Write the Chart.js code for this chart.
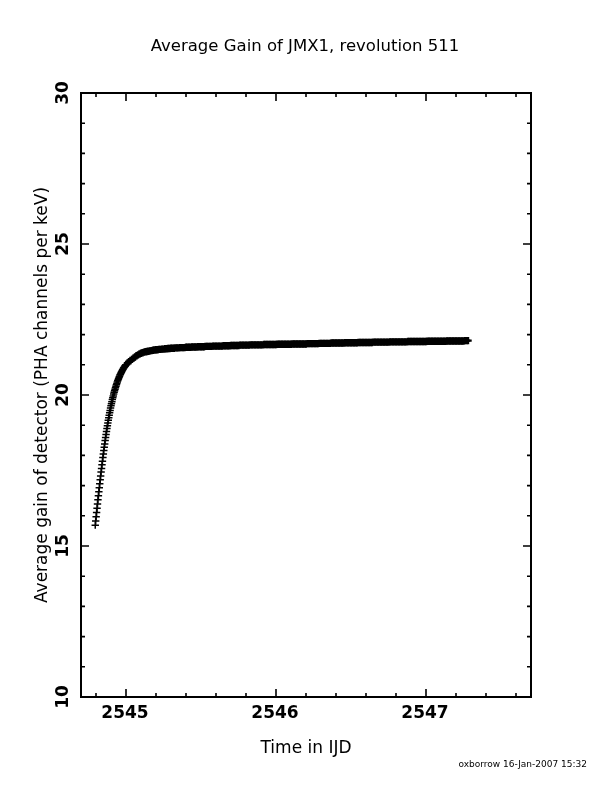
<!DOCTYPE html>
<html><head><meta charset="utf-8">
<script src="https://cdn.jsdelivr.net/npm/chart.js@4.4.0/dist/chart.umd.min.js"></script>
<style>html,body{margin:0;padding:0;background:#fff;}#wrap{width:612px;height:792px;}</style>
</head><body><div id="wrap"><canvas id="c" width="612" height="792"></canvas></div>
<script>
const titleText = "Average Gain of JMX1, revolution 511";
const xTitle = "Time in IJD";
const yTitle = "Average gain of detector (PHA channels per keV)";
const stampText = "oxborrow 16-Jan-2007 15:32";

const xMajorTicks = [2545, 2546, 2547];
const xMinorTicks = [2544.8, 2545.2, 2545.4, 2545.6, 2545.8, 2546.2, 2546.4, 2546.6, 2546.8, 2547.2, 2547.4, 2547.6];
const yMajorTicks = [10, 15, 20, 25, 30];
const yMinorTicks = [11, 12, 13, 14, 16, 17, 18, 19, 21, 22, 23, 24, 26, 27, 28, 29];

const steepTimes = [
 2544.795,2544.798,2544.801,2544.804,2544.807,2544.810,2544.813,2544.816,2544.819,2544.822,
 2544.825,2544.828,2544.831,2544.834,2544.837,2544.840,2544.843,2544.846,2544.849,2544.852,
 2544.855,2544.858,2544.861,2544.864,2544.867,2544.870,2544.873,2544.876,2544.879,2544.882,
 2544.885,2544.888,2544.891,2544.894,2544.897,2544.900,2544.903,2544.906,2544.909,2544.912,
 2544.915,2544.918,2544.921,2544.924,2544.927,2544.930,2544.933,2544.936,2544.939,2544.942,
 2544.945,2544.948,2544.951,2544.954,2544.957,2544.960,2544.963,2544.966,2544.969,2544.972,
 2544.975,2544.978,2544.981,2544.984,2544.987,2544.990,2544.993,2544.996,2544.999
];
const steepGain = [
 15.69,15.83,15.97,16.11,16.25,16.39,16.53,16.66,16.80,16.93,
 17.06,17.19,17.32,17.45,17.57,17.69,17.81,17.93,18.05,18.16,
 18.27,18.38,18.49,18.59,18.69,18.79,18.89,18.98,19.07,19.16,
 19.25,19.33,19.41,19.49,19.57,19.64,19.71,19.78,19.85,19.91,
 19.97,20.03,20.09,20.14,20.19,20.24,20.29,20.34,20.38,20.43,
 20.47,20.51,20.55,20.59,20.62,20.66,20.69,20.72,20.75,20.78,
 20.81,20.84,20.86,20.89,20.91,20.93,20.96,20.98,21.00
];

const plateauTimes = [
 2545.01,2545.02,2545.03,2545.04,2545.05,2545.06,2545.07,2545.08,2545.09,
 2545.10,2545.11,2545.12,2545.13,2545.14,2545.15,2545.16,2545.17,2545.18,2545.19,
 2545.20,2545.21,2545.22,2545.23,2545.24,2545.25,2545.26,2545.27,2545.28,2545.29,
 2545.30,2545.31,2545.32,2545.33,2545.34,2545.35,2545.36,2545.37,2545.38,2545.39,
 2545.40,2545.41,2545.42,2545.43,2545.44,2545.45,2545.46,2545.47,2545.48,2545.49,
 2545.50,2545.51,2545.52,2545.53,2545.54,2545.55,2545.56,2545.57,2545.58,2545.59,
 2545.60,2545.61,2545.62,2545.63,2545.64,2545.65,2545.66,2545.67,2545.68,2545.69,
 2545.70,2545.71,2545.72,2545.73,2545.74,2545.75,2545.76,2545.77,2545.78,2545.79,
 2545.80,2545.81,2545.82,2545.83,2545.84,2545.85,2545.86,2545.87,2545.88,2545.89,
 2545.90,2545.91,2545.92,2545.93,2545.94,2545.95,2545.96,2545.97,2545.98,2545.99,
 2546.00,2546.01,2546.02,2546.03,2546.04,2546.05,2546.06,2546.07,2546.08,2546.09,
 2546.10,2546.11,2546.12,2546.13,2546.14,2546.15,2546.16,2546.17,2546.18,2546.19,
 2546.20,2546.21,2546.22,2546.23,2546.24,2546.25,2546.26,2546.27,2546.28,2546.29,
 2546.30,2546.31,2546.32,2546.33,2546.34,2546.35,2546.36,2546.37,2546.38,2546.39,
 2546.40,2546.41,2546.42,2546.43,2546.44,2546.45,2546.46,2546.47,2546.48,2546.49,
 2546.50,2546.51,2546.52,2546.53,2546.54,2546.55,2546.56,2546.57,2546.58,2546.59,
 2546.60,2546.61,2546.62,2546.63,2546.64,2546.65,2546.66,2546.67,2546.68,2546.69,
 2546.70,2546.71,2546.72,2546.73,2546.74,2546.75,2546.76,2546.77,2546.78,2546.79,
 2546.80,2546.81,2546.82,2546.83,2546.84,2546.85,2546.86,2546.87,2546.88,2546.89,
 2546.90,2546.91,2546.92,2546.93,2546.94,2546.95,2546.96,2546.97,2546.98,2546.99,
 2547.00,2547.01,2547.02,2547.03,2547.04,2547.05,2547.06,2547.07,2547.08,2547.09,
 2547.10,2547.11,2547.12,2547.13,2547.14,2547.15,2547.16,2547.17,2547.18,2547.19,
 2547.20,2547.21,2547.22,2547.23,2547.24,2547.25,2547.26,2547.27,2547.28
];
const plateauGain = [
 21.05,21.10,21.14,21.18,21.22,21.26,21.30,21.33,21.36,
 21.38,21.40,21.42,21.43,21.44,21.45,21.46,21.47,21.48,21.49,
 21.50,21.50,21.51,21.51,21.52,21.52,21.53,21.53,21.54,21.54,
 21.55,21.55,21.55,21.56,21.56,21.56,21.57,21.57,21.57,21.57,
 21.58,21.58,21.58,21.58,21.59,21.59,21.59,21.59,21.60,21.60,
 21.60,21.60,21.60,21.61,21.61,21.61,21.61,21.61,21.62,21.62,
 21.62,21.62,21.62,21.62,21.62,21.63,21.63,21.63,21.63,21.63,
 21.64,21.64,21.64,21.64,21.64,21.64,21.65,21.65,21.65,21.65,
 21.65,21.65,21.65,21.66,21.66,21.66,21.66,21.66,21.66,21.66,
 21.66,21.66,21.67,21.67,21.67,21.67,21.67,21.67,21.67,21.67,
 21.67,21.68,21.68,21.68,21.68,21.68,21.68,21.68,21.68,21.68,
 21.68,21.69,21.69,21.69,21.69,21.69,21.69,21.69,21.69,21.69,
 21.69,21.70,21.70,21.70,21.70,21.70,21.70,21.70,21.70,21.71,
 21.71,21.71,21.71,21.71,21.71,21.71,21.71,21.72,21.72,21.72,
 21.72,21.72,21.72,21.72,21.72,21.72,21.73,21.73,21.73,21.73,
 21.73,21.73,21.73,21.73,21.73,21.74,21.74,21.74,21.74,21.74,
 21.74,21.74,21.74,21.74,21.74,21.75,21.75,21.75,21.75,21.75,
 21.75,21.75,21.75,21.75,21.75,21.75,21.76,21.76,21.76,21.76,
 21.76,21.76,21.76,21.76,21.76,21.76,21.76,21.76,21.77,21.77,
 21.77,21.77,21.77,21.77,21.77,21.77,21.77,21.77,21.77,21.77,
 21.77,21.78,21.78,21.78,21.78,21.78,21.78,21.78,21.78,21.78,
 21.78,21.78,21.78,21.78,21.79,21.79,21.79,21.79,21.79,21.79,
 21.79,21.79,21.79,21.79,21.79,21.79,21.80,21.80,21.80
];

const allTimes = steepTimes.concat(plateauTimes);
const allGain = steepGain.concat(plateauGain);
const points = allTimes.map((t, i) => ({ x: t, y: allGain[i] }));

const FONT = '"DejaVu Sans", "Liberation Sans", sans-serif';

const framePlugin = {
  id: 'frame',
  afterDatasetsDraw(chart) {
    const { ctx, chartArea: a, scales: { x, y } } = chart;
    ctx.save();
    ctx.strokeStyle = '#000';
    ctx.fillStyle = '#000';
    ctx.lineWidth = 2;
    ctx.strokeRect(a.left, a.top, a.right - a.left, a.bottom - a.top);
    ctx.lineWidth = 1.6;
    const xt = (vals, len) => vals.forEach(v => {
      const p = x.getPixelForValue(v);
      ctx.beginPath();
      ctx.moveTo(p, a.bottom); ctx.lineTo(p, a.bottom - len);
      ctx.moveTo(p, a.top); ctx.lineTo(p, a.top + len);
      ctx.stroke();
    });
    const yt = (vals, len) => vals.forEach(v => {
      const p = y.getPixelForValue(v);
      ctx.beginPath();
      ctx.moveTo(a.left, p); ctx.lineTo(a.left + len, p);
      ctx.moveTo(a.right, p); ctx.lineTo(a.right - len, p);
      ctx.stroke();
    });
    xt(xMajorTicks, 8); xt(xMinorTicks, 4);
    yt(yMajorTicks, 8); yt(yMinorTicks, 4);

    // tick labels
    ctx.font = 'bold 17px ' + FONT;
    ctx.textAlign = 'center';
    ctx.textBaseline = 'middle';
    xMajorTicks.forEach(v => ctx.fillText(String(v), x.getPixelForValue(v) - 1, a.bottom + 17));
    yMajorTicks.forEach(v => {
      ctx.save();
      ctx.translate(a.left - 17, y.getPixelForValue(v));
      ctx.rotate(-Math.PI / 2);
      ctx.fillText(String(v), 0, 0);
      ctx.restore();
    });

    // titles
    ctx.font = '16.5px ' + FONT;
    ctx.fillText(titleText, (a.left + a.right) / 2 - 1, 47);
    ctx.font = '17px ' + FONT;
    ctx.fillText(xTitle, (a.left + a.right) / 2, 749);
    ctx.save();
    ctx.translate(43, (a.top + a.bottom) / 2);
    ctx.rotate(-Math.PI / 2);
    ctx.fillText(yTitle, 0, 0);
    ctx.restore();

    ctx.font = '9px ' + FONT;
    ctx.textAlign = 'right';
    ctx.fillText(stampText, 587, 765);
    ctx.restore();
  }
};

new Chart(document.getElementById('c'), {
  type: 'scatter',
  data: {
    datasets: [{
      data: points,
      showLine: false,
      pointStyle: 'cross',
      pointRadius: 3.7,
      pointHoverRadius: 3.7,
      borderColor: '#000',
      backgroundColor: '#000',
      pointBorderWidth: c => (c.dataIndex < steepTimes.length ? 1.5 : 2.4)
    }]
  },
  options: {
    responsive: false,
    animation: false,
    events: [],
    layout: { padding: { top: 93, right: 81, left: 0, bottom: 0 }, autoPadding: false },
    plugins: { legend: { display: false }, tooltip: { enabled: false }, title: { display: false } },
    scales: {
      x: {
        type: 'linear', min: 2544.7, max: 2547.7,
        ticks: { display: false }, grid: { display: false }, border: { display: false },
        afterFit: s => { s.height = 95; }
      },
      y: {
        type: 'linear', min: 10, max: 30,
        ticks: { display: false }, grid: { display: false }, border: { display: false },
        afterFit: s => { s.width = 81; }
      }
    }
  },
  plugins: [framePlugin]
});
</script>
</body></html>
